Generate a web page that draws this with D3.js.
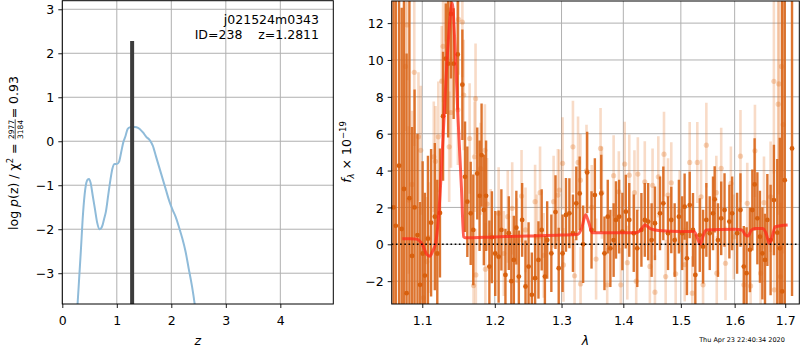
<!DOCTYPE html>
<html>
<head>
<meta charset="utf-8">
<script src="https://cdn.jsdelivr.net/npm/d3@7"></script>
<style>
  html, body { margin: 0; padding: 0; background: #fff; }
  svg { display: block; font-family: "DejaVu Sans", sans-serif; }
  svg text { white-space: pre; }
</style>
</head>
<body>
<svg id="chart" width="800" height="350"></svg>
<script>
/* --- redshift fit: p(z) + spectrum --- */

// p(z) curve
const pzZ    = [0.26, 0.28, 0.31, 0.34, 0.38, 0.42, 0.46, 0.49, 0.52, 0.56, 0.60, 0.64, 0.68, 0.71, 0.74, 0.77, 0.80, 0.84, 0.88, 0.92, 0.96, 1.00, 1.04, 1.08, 1.12, 1.16, 1.20, 1.25, 1.30, 1.36, 1.42, 1.48, 1.54, 1.60, 1.66, 1.72, 1.78, 1.84, 1.90, 1.96, 2.02, 2.08, 2.14, 2.20, 2.26, 2.32, 2.38, 2.44, 2.47];
const pzLogp = [-4.0, -3.7, -3.1, -2.5, -1.65, -1.1, -0.88, -0.86, -0.95, -1.25, -1.55, -1.85, -2.0, -1.98, -1.9, -1.75, -1.6, -1.25, -0.9, -0.62, -0.52, -0.52, -0.47, -0.25, -0.02, 0.12, 0.28, 0.32, 0.33, 0.32, 0.28, 0.2, 0.1, 0.03, -0.1, -0.35, -0.6, -0.85, -1.1, -1.35, -1.55, -1.72, -1.95, -2.2, -2.5, -2.9, -3.3, -3.8, -4.1];
const zBest = 1.2811;
const zBarTop = 2.28;

const titleLines = ["j021524m0343", "ID=238    z=1.2811"];
const pzXTicks = [0, 1, 2, 3, 4];
const pzYTicks = [-3, -2, -1, 0, 1, 2, 3];
const specXTicks = [1.1, 1.2, 1.3, 1.4, 1.5, 1.6, 1.7];
const specYTicks = [-2, 0, 2, 4, 6, 8, 10, 12];
const stamp = "Thu Apr 23 22:40:34 2020";

// spectrum, [lambda, flux, err]
const darkSpec = [
  [1.0627, 2.0, 14], [1.0656, 1.0, 14], [1.0698, 4.26, 14], [1.0732, 0.83, 12], [1.0761, 3.0, 14],
  [1.0795, -2.65, 13], [1.0832, 2.5, 12], [1.0866, -0.63, 7], [1.0899, 2.0, 6.4], [1.0937, 0.5, 5.5],
  [1.0971, -2.2, 4.5], [1.1005, -0.5, 5], [1.1034, -1.7, 4.5], [1.1075, 0.3, 4.5], [1.1117, 1.17, 4],
  [1.1167, 1.5, 4], [1.1200, -0.5, 4], [1.1236, 1.7, 3.5], [1.1278, 6.95, 3.5], [1.1315, 10.07, 3],
  [1.1347, 9.8, 4], [1.1385, 12.5, 3.5], [1.1422, 9.8, 3], [1.1478, 10.3, 3], [1.1542, 8.66, 3],
  [1.1579, 3.66, 3], [1.1611, 2.31, 3], [1.1658, 1.68, 2.8], [1.1694, 0.78, 3], [1.1750, 3.84, 2.5],
  [1.1783, 2.63, 3], [1.1811, 4.84, 2.8], [1.1843, 1.86, 3], [1.1875, 2.63, 3], [1.1922, -1.21, 2.5],
  [1.1958, 0.38, 2.5], [1.2006, -0.5, 2.3], [1.2055, -0.67, 2.5], [1.2095, 0.78, 2.2], [1.2154, -1.66, 2.5],
  [1.2203, 0.6, 2.0], [1.2240, -2.0, 2.5], [1.2277, -0.85, 2.4], [1.2314, 0.9, 2.0], [1.2351, -1.75, 2.5],
  [1.2400, 1.32, 2.0], [1.2450, -2.29, 2.5], [1.2496, -1.21, 2.4], [1.2545, -2.74, 2.3], [1.2594, -1.84, 2.4],
  [1.2645, -0.85, 2.1], [1.2694, 0.78, 2.2], [1.2743, -1.75, 2.2], [1.2778, 0.23, 2.1], [1.2842, -0.49, 2.1],
  [1.2906, 1.75, 2.0], [1.2956, -1.3, 2.2], [1.3016, -0.49, 2.1], [1.3069, 1.59, 2.0], [1.3123, 1.68, 1.9],
  [1.3179, 0.6, 2.1], [1.3232, 2.22, 2.0], [1.3286, 2.76, 2.0], [1.3341, 0.0, 2.1], [1.3406, 3.9, 2.2],
  [1.3476, 0.78, 2.1], [1.3530, 2.67, 2.0], [1.3634, 2.76, 2.1], [1.3687, -0.49, 2], [1.3741, 1.5, 2],
  [1.3784, -0.22, 2.1], [1.3838, 0.23, 2], [1.3877, 1.32, 2.1], [1.3930, 1.5, 2], [1.3984, 0.69, 2.1],
  [1.4042, 1.77, 2], [1.4100, 1.32, 2], [1.4176, 0.6, 2.1], [1.4236, -0.22, 2.1], [1.4307, 0.78, 2],
  [1.4365, 1.32, 2], [1.4423, 1.23, 2.1], [1.4483, 0.23, 2], [1.4541, 1.14, 2], [1.4630, 1.68, 2],
  [1.4688, 2.22, 2], [1.4771, 0.6, 2], [1.4829, 1.32, 1.8], [1.4889, 0.23, 2], [1.4965, 1.5, 2],
  [1.5024, 0.6, 2], [1.5068, 2.04, 1.8], [1.5110, -0.76, 2], [1.5160, 2.13, 1.8], [1.5220, 0.78, 2],
  [1.5263, -1.66, 2.2], [1.5344, 0.5, 2], [1.5405, -0.13, 2], [1.5466, 1.32, 2], [1.5529, 0.6, 2],
  [1.5590, 1.68, 2], [1.5621, 2.44, 1.8], [1.5683, 0.23, 2], [1.5744, 1.41, 2], [1.5807, 1.86, 2],
  [1.5899, 1.23, 2], [1.5952, 1.68, 2], [1.6047, 0.6, 2.2], [1.6112, 1.86, 2], [1.6177, -1.21, 2.2],
  [1.6230, -1.57, 2.5], [1.6296, -0.3, 2.3], [1.6343, 1.86, 2.2], [1.6388, 3.25, 2.5], [1.6442, 1.41, 2.5],
  [1.6493, 0.41, 2.5], [1.6541, -0.49, 2.5], [1.6593, -0.85, 2.5], [1.6640, 1.32, 2.5], [1.6705, 0.23, 3],
  [1.6771, 2.4, 3], [1.6839, 0.63, 4], [1.6890, -0.22, 6], [1.6938, -2.56, 16], [1.6990, 3.48, 16],
  [1.7140, 5.2, 8]
];

const lightSpec = [
  [1.0781, 9.65, 3.5], [1.0803, 11.9, 3], [1.0823, 2.4, 4], [1.0866, 3.25, 4], [1.0895, 9.33, 4],
  [1.0950, 5.83, 3.5], [1.0980, 5.1, 3.5], [1.1014, -2.9, 3], [1.1061, -0.94, 3.5], [1.1083, 0.36, 3],
  [1.1153, 4.75, 3], [1.1176, 4.5, 3], [1.1214, 5.83, 3], [1.1260, 8.85, 3], [1.1278, 10.74, 3],
  [1.1315, 14, 3], [1.1361, 5.29, 3], [1.1365, 12.7, 3], [1.1385, 7.15, 3], [1.1480, 7.3, 3],
  [1.1490, 12.2, 3], [1.1542, 12.06, 3], [1.1561, 8.1, 3], [1.1643, 5.74, 3], [1.1698, -2.24, 2.5],
  [1.1712, 4.75, 3], [1.1726, 7.9, 3], [1.1730, -1.66, 2.5], [1.1797, 4.1, 2.5], [1.1858, 5.1, 2.5],
  [1.1865, -1.35, 2.5], [1.1890, 2.18, 2.5], [1.1941, 0.5, 2.5], [1.2055, 1.68, 2.5], [1.2130, -0.5, 2.3],
  [1.2188, 1.5, 2.5], [1.2253, 1.95, 2.5], [1.2322, 0.2, 2.3], [1.2391, 2.62, 2.5], [1.2450, 0.78, 2.3],
  [1.2594, 2.31, 2], [1.2620, 0.4, 2.3], [1.2669, 2.8, 2.5], [1.2725, -0.6, 2.3], [1.2877, 2.31, 2.5],
  [1.2943, 2.67, 2.5], [1.2966, 2.94, 2.2], [1.3016, 4.39, 2.5], [1.3030, -1.12, 2], [1.3179, 5.29, 2.5],
  [1.3205, -1.71, 2], [1.3260, 4.44, 2.5], [1.3297, 3.48, 2.5], [1.3300, -2.15, 2], [1.3395, 3.99, 2.5],
  [1.3480, 2.0, 2.3], [1.3550, -0.8, 2.2], [1.3623, 5.2, 2.2], [1.3644, 2.8, 2.5], [1.3732, -2.2, 2],
  [1.3838, 3.72, 2.2], [1.3925, 2.85, 2.2], [1.3958, -2.2, 2], [1.4023, 4.35, 2.3], [1.4067, -1.0, 2],
  [1.4100, 3.75, 2.2], [1.4188, 2.8, 2.3], [1.4218, -2.0, 2], [1.4246, 3.81, 2], [1.4365, 3.39, 2.2],
  [1.4453, -1.2, 2], [1.4500, 3.2, 2], [1.4541, -2.6, 2], [1.4600, 3.66, 2.2], [1.4700, 4.89, 2.3],
  [1.4729, -1.75, 2], [1.4771, 2.67, 2], [1.4829, 3.34, 2.2], [1.4907, -1.6, 2], [1.4980, 1.8, 2.2],
  [1.5070, -1.1, 2], [1.5160, 4.44, 2.2], [1.5207, -2.65, 2], [1.5299, 4.44, 2.2], [1.5368, 2.58, 2],
  [1.5405, -2.2, 2], [1.5466, 5.38, 2.3], [1.5652, 2.8, 2], [1.5660, -1.57, 2], [1.5744, 4.12, 2.2],
  [1.5825, -1.03, 2], [1.5928, 3.3, 2], [1.5982, 0.4, 2.3], [1.6112, 4.78, 2.5], [1.6177, -2.2, 2],
  [1.6244, 2.22, 2.2], [1.6309, -2.26, 2], [1.6394, 5.07, 2.5], [1.6506, -1.57, 2.2], [1.6573, 2.26, 2.5],
  [1.6705, 2.58, 3], [1.6771, 8.84, 5], [1.6780, -2.47, 3], [1.6858, 7.6, 6], [1.6870, 8.7, 6],
  [1.6904, -1.75, 4], [1.6924, 9.65, 6], [1.6958, 6.5, 7]
];

// best-fit template, [lambda, flux]
const model = [
  [1.074, 0.3], [1.085, 0.3], [1.092, 0.28], [1.100, 0.0], [1.106, -0.55], [1.110, -0.65], [1.114, -0.35],
  [1.118, 0.1], [1.1226, 2.0], [1.128, 6.0], [1.134, 10.5], [1.1403, 13.1], [1.144, 10.8], [1.148, 7.0],
  [1.153, 3.0], [1.156, 0.4], [1.158, 0.35], [1.20, 0.4], [1.25, 0.45], [1.30, 0.5], [1.326, 0.55],
  [1.332, 0.9], [1.338, 1.6], [1.343, 1.2], [1.349, 0.62], [1.42, 0.63], [1.428, 0.72], [1.437, 1.05],
  [1.446, 0.85], [1.46, 0.75], [1.50, 0.7], [1.524, 0.7], [1.530, 0.35], [1.535, 0.0], [1.540, 0.4],
  [1.546, 0.78], [1.60, 0.82], [1.614, 0.78], [1.621, 0.5], [1.626, 0.45], [1.632, 0.75], [1.64, 0.85],
  [1.655, 0.85], [1.662, 0.55], [1.668, 0.05], [1.673, 0.35], [1.68, 0.95], [1.705, 1.05]
];

// --- setup ---
const svg = d3.select("#chart");
const FONT = 12.5;
const GRID = "#b0b0b0";
const DARK = "#d9661a";
const LIGHT = "rgba(226,112,30,0.25)";

const L = { x0: 62.3, x1: 333.3, y0: 0.7, y1: 304 };
const R = { x0: 391.7, x1: 799.3, y0: 1, y1: 304 };

const xz = d3.scaleLinear().domain([0, 4.972]).range([L.x0, L.x1]);
const yp = d3.scaleLinear().domain([-3.70, 3.195]).range([L.y1, L.y0]);
const xl = d3.scaleLog().domain([1.0604, 1.729]).range([R.x0, R.x1]);
const yf = d3.scaleLinear().domain([-3.24, 13.2]).range([R.y1, R.y0]);

const defs = svg.append("defs");
function clip(id, b) {
  defs.append("clipPath").attr("id", id)
    .append("rect").attr("x", b.x0).attr("y", b.y0)
    .attr("width", b.x1 - b.x0).attr("height", b.y1 - b.y0);
}
clip("clipL", L);
clip("clipR", R);

function grid(b, xs, ys, xv, yv) {
  const g = svg.append("g").attr("stroke", GRID).attr("stroke-width", 1);
  xv.forEach(v => g.append("line").attr("x1", xs(v)).attr("x2", xs(v)).attr("y1", b.y0).attr("y2", b.y1));
  yv.forEach(v => g.append("line").attr("x1", b.x0).attr("x2", b.x1).attr("y1", ys(v)).attr("y2", ys(v)));
}

function axes(b, xs, ys, xv, yv, xfmt) {
  const gx = svg.append("g").attr("transform", `translate(0,${b.y1})`)
    .call(d3.axisBottom(xs).tickValues(xv).tickSize(4).tickPadding(8).tickFormat(xfmt));
  const gy = svg.append("g").attr("transform", `translate(${b.x0},0)`)
    .call(d3.axisLeft(ys).tickValues(yv).tickSize(4).tickPadding(4).tickFormat(d3.format("d")));
  [gx, gy].forEach(g => {
    g.select(".domain").remove();
    g.selectAll("text").attr("font-size", FONT).attr("fill", "#000").attr("font-family", "DejaVu Sans");
    g.selectAll("line").attr("stroke", "#000").attr("stroke-width", 0.9);
  });
  gy.selectAll("text").attr("dy", "0.37em");
  svg.append("rect").attr("x", b.x0).attr("y", b.y0)
    .attr("width", b.x1 - b.x0).attr("height", b.y1 - b.y0)
    .attr("fill", "none").attr("stroke", "#000").attr("stroke-width", 1);
}

// rich text along a baseline, returns width
function richText(g, parts) {
  let x = 0;
  parts.forEach(p => {
    if (p.frac) {
      const fs = 7.5;
      const n = g.append("text").attr("y", -3.6).attr("font-size", fs).text(p.frac[0]);
      const d = g.append("text").attr("y", 5.2).attr("font-size", fs).text(p.frac[1]);
      const wn = n.node().getComputedTextLength(), wd = d.node().getComputedTextLength();
      const w = Math.max(wn, wd) + 1;
      n.attr("x", x + (w - wn) / 2);
      d.attr("x", x + (w - wd) / 2);
      g.append("line").attr("x1", x).attr("x2", x + w).attr("y1", -2.3).attr("y2", -2.3)
        .attr("stroke", "#000").attr("stroke-width", 0.7);
      x += w + 1;
    } else {
      const t = g.append("text").attr("x", x).attr("y", p.shift || 0)
        .attr("font-size", p.size || FONT)
        .attr("font-style", p.italic ? "italic" : null)
        .text(p.t);
      x += t.node().getComputedTextLength();
    }
  });
  return x;
}

function rotatedLabel(cx, cy, parts) {
  const outer = svg.append("g");
  const inner = outer.append("g");
  const w = richText(inner, parts);
  outer.attr("transform", `translate(${cx},${cy}) rotate(-90) translate(${-w / 2},0)`);
}

// --- LEFT: p(z) ---
grid(L, xz, yp, pzXTicks, pzYTicks);

const gL = svg.append("g").attr("clip-path", "url(#clipL)");
gL.append("path")
  .datum(pzZ.map((z, i) => [z, pzLogp[i]]))
  .attr("d", d3.line().x(d => xz(d[0])).y(d => yp(d[1])).curve(d3.curveMonotoneX))
  .attr("fill", "none").attr("stroke", "#8fbbd9").attr("stroke-width", 2);

gL.append("line")
  .attr("x1", xz(zBest)).attr("x2", xz(zBest))
  .attr("y1", yp(zBarTop)).attr("y2", L.y1 + 2)
  .attr("stroke", "#3c3c3c").attr("stroke-width", 4);

axes(L, xz, yp, pzXTicks, pzYTicks, d3.format("d"));

titleLines.forEach((s, i) => {
  svg.append("text").attr("x", 319).attr("y", 24 + i * 14.5)
    .attr("text-anchor", "end").attr("font-size", FONT).text(s);
});

svg.append("text").attr("x", (L.x0 + L.x1) / 2).attr("y", 345)
  .attr("text-anchor", "middle").attr("font-size", FONT).attr("font-style", "italic").text("z");

rotatedLabel(17.5, 153, [
  { t: "log " }, { t: "p", italic: true }, { t: "(z) / χ" },
  { t: "2", size: 8.5, shift: -5 }, { t: " = " },
  { frac: ["2977", "3184"] }, { t: "= 0.93" }
]);

// --- RIGHT: spectrum ---
grid(R, xl, yf, specXTicks, specYTicks);

const gR = svg.append("g").attr("clip-path", "url(#clipR)");

// light errorbars + markers
gR.append("g").selectAll("line").data(lightSpec).join("line")
  .attr("x1", d => xl(d[0])).attr("x2", d => xl(d[0]))
  .attr("y1", d => yf(d[1] - d[2])).attr("y2", d => yf(d[1] + d[2]))
  .attr("stroke", LIGHT).attr("stroke-width", 2.6);
gR.append("g").selectAll("circle").data(lightSpec).join("circle")
  .attr("cx", d => xl(d[0])).attr("cy", d => yf(d[1])).attr("r", 2.6)
  .attr("fill", "rgba(226,112,30,0.3)");

// dark errorbars + markers
gR.append("g").selectAll("line").data(darkSpec).join("line")
  .attr("x1", d => xl(d[0])).attr("x2", d => xl(d[0]))
  .attr("y1", d => yf(d[1] - d[2])).attr("y2", d => yf(d[1] + d[2]))
  .attr("stroke", DARK).attr("stroke-opacity", 0.9).attr("stroke-width", 2.4);
gR.append("g").selectAll("circle").data(darkSpec).join("circle")
  .attr("cx", d => xl(d[0])).attr("cy", d => yf(d[1])).attr("r", 2.4)
  .attr("fill", "#d8600e");

// model
gR.append("path").datum(model)
  .attr("d", d3.line().x(d => xl(d[0])).y(d => yf(d[1])).curve(d3.curveMonotoneX))
  .attr("fill", "none").attr("stroke", "#ff2a1a").attr("stroke-opacity", 0.75)
  .attr("stroke-width", 3).attr("stroke-linejoin", "round");

// zero line
gR.append("line").attr("x1", R.x0).attr("x2", R.x1).attr("y1", yf(0)).attr("y2", yf(0))
  .attr("stroke", "#000").attr("stroke-width", 1.6).attr("stroke-dasharray", "1.6,2.6");

axes(R, xl, yf, specXTicks, specYTicks, d3.format(".1f"));

svg.append("text").attr("x", (R.x0 + R.x1) / 2 - 10).attr("y", 345)
  .attr("text-anchor", "middle").attr("font-size", FONT).attr("font-style", "italic").text("λ");

rotatedLabel(351, 152, [
  { t: "f", italic: true }, { t: "λ", italic: true, size: 8.5, shift: 3 },
  { t: " × 10" }, { t: "−19", size: 8.5, shift: -5 }
]);

svg.append("text").attr("x", 742).attr("y", 342)
  .attr("text-anchor", "middle").attr("font-size", 6.5).text(stamp);
</script>
</body>
</html>
